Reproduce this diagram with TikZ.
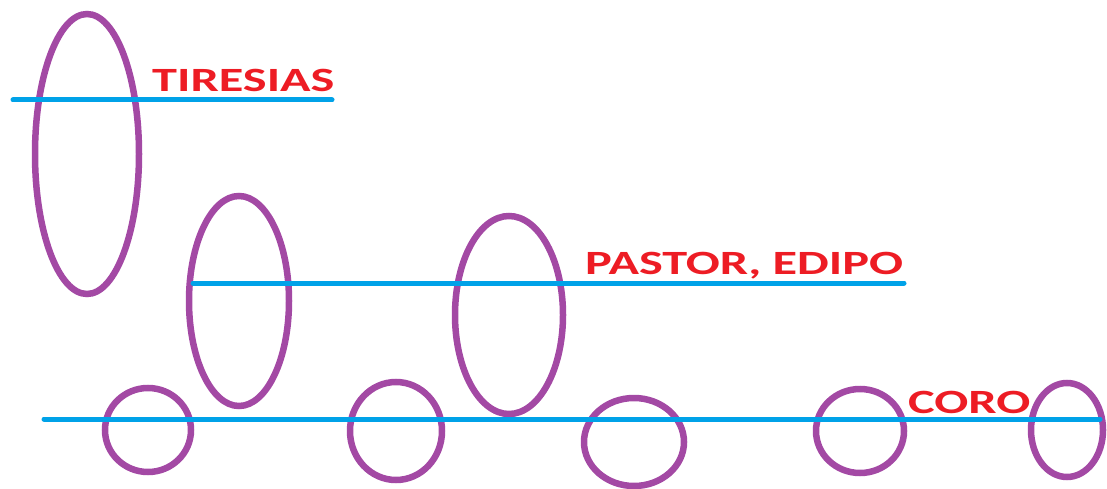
\documentclass[tikz,border=0pt]{standalone}
\usepackage{fontspec}
\setmainfont{Carlito}
\newfontfamily\rolefont[FakeStretch=1.48]{Carlito}
\definecolor{paintpurple}{HTML}{A349A4}
\definecolor{paintblue}{HTML}{00A2E8}
\definecolor{paintred}{HTML}{ED1C24}
\tikzset{
  ring/.style={draw=paintpurple, line width=6.5pt},
  voice/.style={draw=paintblue, line width=5pt, line cap=round},
  role/.style={text=paintred, font=\rolefont\bfseries\fontsize{34}{34}\selectfont, inner sep=0pt, anchor=base west}
}

\begin{document}
\begin{tikzpicture}[x=1pt, y=-1pt]
  \useasboundingbox (0,0) rectangle (1107,489);
  % Ellipses: centre x, centre y, x radius, y radius.
  \foreach \cx/\cy/\rx/\ry in {87/154/52/140, 239/301/50/105, 509/315/54/99,
                              148/430/43/42, 396/431/46/49, 634/442/50/44,
                              860/431/44/42, 1067/430/36/47} {
    \draw[ring] (\cx,\cy) ellipse [x radius=\rx, y radius=\ry];
  }
  % Ends of the three lines.
  \coordinate (tirA) at (13,100);
  \coordinate (tirB) at (332,100);
  \coordinate (pasA) at (193,283);
  \coordinate (pasB) at (904,283);
  \coordinate (corA) at (44,419);
  \coordinate (corB) at (1100,419);
  \draw[voice] (tirA) -- (tirB);
  \draw[voice] (pasA) -- (pasB);
  \draw[voice] (corA) -- (corB);
  % Labels above each line.
  \node[role] (tiresias) at (152,92) {TIRESIAS};
  \node[role] (pastor) at (585,274) {PASTOR, EDIPO};
  \node[role] (coro) at (908,413) {CORO};
\end{tikzpicture}
\end{document}
